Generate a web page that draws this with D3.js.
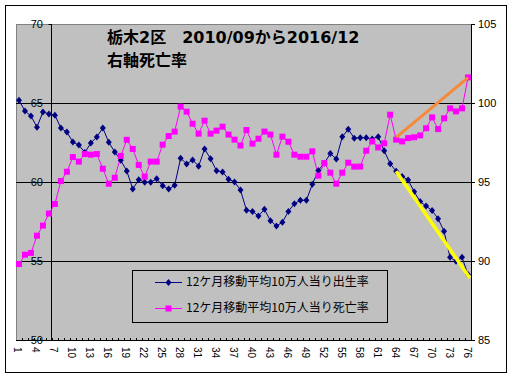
<!DOCTYPE html>
<html><head><meta charset="utf-8">
<script src="https://cdn.jsdelivr.net/npm/d3@7"></script>
<style>
html,body{margin:0;padding:0;background:#fff;}
svg{display:block;}
</style></head>
<body>
<svg id="c" width="513" height="379"></svg>
<script>
const titleLines = ["栃木2区　2010/09から2016/12", "右軸死亡率"];
const seriesNames = ["12ケ月移動平均10万人当り出生率", "12ケ月移動平均10万人当り死亡率"];
const categories = [1,2,3,4,5,6,7,8,9,10,11,12,13,14,15,16,17,18,19,20,21,22,23,24,25,26,27,28,29,30,31,32,33,34,35,36,37,38,39,40,41,42,43,44,45,46,47,48,49,50,51,52,53,54,55,56,57,58,59,60,61,62,63,64,65,66,67,68,69,70,71,72,73,74,75,76];
const tickLabels = [1,4,7,10,13,16,19,22,25,28,31,34,37,40,43,46,49,52,55,58,61,64,67,70,73,76];
const leftTicks = [50,55,60,65,70];
const rightTicks = [85,90,95,100,105];
// birth rate (left axis)
const birth = [65.17,64.49,64.18,63.47,64.43,64.31,64.23,63.41,63.16,62.53,
  62.34,61.87,62.47,62.85,63.42,62.51,61.90,61.37,60.70,59.56,
  60.14,59.99,59.99,60.20,59.76,59.55,59.79,61.51,61.14,61.40,
  61.00,62.09,61.47,60.71,60.64,60.18,60.00,59.49,58.21,58.14,
  57.85,58.27,57.55,57.22,57.45,58.14,58.63,58.84,58.84,59.86,
  60.73,61.18,61.80,61.46,62.86,63.34,62.77,62.80,62.80,62.72,
  62.87,61.98,61.16,60.68,60.35,60.13,59.39,58.76,58.48,58.19,
  57.68,56.88,55.23,54.98,55.23,54.14];
// death rate (right axis)
const death = [89.81,90.40,90.51,91.60,92.24,93.00,93.61,95.06,95.65,96.58,
  96.29,96.77,96.73,96.77,95.84,94.89,95.27,96.65,97.67,97.09,
  96.08,95.34,96.29,96.29,97.36,97.91,98.19,99.77,99.45,98.69,
  98.06,98.88,98.06,98.25,98.50,98.00,97.68,97.31,98.29,97.43,
  97.74,98.19,98.00,96.73,97.87,97.55,96.73,96.60,96.60,96.94,
  95.40,96.20,95.59,94.89,95.59,96.22,95.97,95.98,96.98,97.57,
  97.19,97.45,99.26,97.68,97.57,97.78,97.83,97.95,98.40,99.09,
  98.35,99.03,99.66,99.47,99.66,101.62];
// hand-drawn trend lines (category, value)
const trendDeathCat = [64, 76];
const trendDeathVal = [97.83, 101.6];
const trendBirthCat = [64, 76.3];
const trendBirthVal = [60.68, 53.92];

const svg = d3.select("#c");
const P = {l:16, r:471, t:24, b:340};
const x = d3.scaleLinear().domain([0.5, 76.5]).range([P.l, P.r]);
const yL = d3.scaleLinear().domain([50, 70]).range([P.b, P.t]);
const yR = d3.scaleLinear().domain([85, 105]).range([P.b, P.t]);

// outer border
svg.append("rect").attr("x",5.5).attr("y",5.5).attr("width",501).attr("height",367)
  .attr("fill","#fff").attr("stroke","#000").attr("stroke-width",1);

// plot area
svg.append("rect").attr("x",P.l+0.5).attr("y",P.t+0.5).attr("width",P.r-P.l).attr("height",P.b-P.t)
  .attr("fill","#C0C0C0").attr("stroke","#808080").attr("stroke-width",1);

// gridlines
svg.append("g").selectAll("line").data([55,60,65]).join("line")
  .attr("x1",P.l).attr("x2",P.r).attr("y1",d=>Math.round(yL(d))+0.5).attr("y2",d=>Math.round(yL(d))+0.5)
  .attr("stroke","#000").attr("stroke-width",1);

// left value axis crossing between categories 6 and 7
const axX = Math.round(x(6.5))-0.5;
svg.append("line").attr("x1",axX).attr("x2",axX).attr("y1",P.t).attr("y2",P.b)
  .attr("stroke","#000");
svg.append("g").selectAll("line").data(leftTicks).join("line")
  .attr("x1",axX-3).attr("x2",axX).attr("y1",d=>Math.round(yL(d))+0.5).attr("y2",d=>Math.round(yL(d))+0.5)
  .attr("stroke","#000");
svg.append("g").selectAll("text").data(leftTicks).join("text")
  .attr("x",43).attr("y",d=>yL(d)).attr("dy","0.35em").attr("text-anchor","end")
  .attr("font-family","Liberation Sans, Arial, sans-serif").attr("font-size",11).attr("fill","#000")
  .text(d=>d);

// right axis
svg.append("line").attr("x1",P.r+0.5).attr("x2",P.r+0.5).attr("y1",P.t).attr("y2",P.b+0.5).attr("stroke","#000");
svg.append("g").selectAll("line").data(rightTicks).join("line")
  .attr("x1",P.r).attr("x2",P.r+4).attr("y1",d=>Math.round(yR(d))+0.5).attr("y2",d=>Math.round(yR(d))+0.5)
  .attr("stroke","#000");
svg.append("g").selectAll("text").data(rightTicks).join("text")
  .attr("x",478).attr("y",d=>yR(d)).attr("dy","0.35em")
  .attr("font-family","Liberation Sans, Arial, sans-serif").attr("font-size",11).attr("fill","#000")
  .text(d=>d);

// x axis
svg.append("line").attr("x1",P.l).attr("x2",P.r+1).attr("y1",P.b+0.5).attr("y2",P.b+0.5).attr("stroke","#000");
const bounds = categories.map(c=>c+0.5);
svg.append("g").selectAll("line").data(bounds).join("line")
  .attr("x1",d=>Math.round(x(d))+0.5).attr("x2",d=>Math.round(x(d))+0.5)
  .attr("y1",P.b-2).attr("y2",P.b).attr("stroke","#000");
svg.append("g").selectAll("text").data(tickLabels).join("text")
  .attr("transform",d=>`translate(${x(d)-1},347) rotate(90)`)
  .attr("dy","0.35em")
  .attr("font-family","Liberation Sans, Arial, sans-serif").attr("font-size",10).attr("fill","#000")
  .text(d=>d);

// series lines
const lineL = d3.line().x((d,i)=>x(categories[i])).y(d=>yL(d));
const lineR = d3.line().x((d,i)=>x(categories[i])).y(d=>yR(d));
svg.append("path").datum(birth).attr("d",lineL).attr("fill","none").attr("stroke","#000080").attr("stroke-width",1);
svg.append("path").datum(death).attr("d",lineR).attr("fill","none").attr("stroke","#FF00FF").attr("stroke-width",1);

const diamond = "M0,-3.5L3,0L0,3.5L-3,0Z";
svg.append("g").selectAll("path").data(birth).join("path")
  .attr("d",diamond).attr("transform",(d,i)=>`translate(${x(categories[i])},${yL(d)})`)
  .attr("fill","#000080");
svg.append("g").selectAll("rect").data(death).join("rect")
  .attr("x",(d,i)=>x(categories[i])-3).attr("y",d=>yR(d)-3).attr("width",6).attr("height",6)
  .attr("fill","#FF00FF");

// trend lines
svg.append("line").attr("x1",x(trendDeathCat[0])).attr("y1",yR(trendDeathVal[0]))
  .attr("x2",x(trendDeathCat[1])).attr("y2",yR(trendDeathVal[1]))
  .attr("stroke","#F7893A").attr("stroke-width",3);
svg.append("line").attr("x1",x(trendBirthCat[0])).attr("y1",yL(trendBirthVal[0]))
  .attr("x2",x(trendBirthCat[1])).attr("y2",yL(trendBirthVal[1]))
  .attr("stroke","#FFFF00").attr("stroke-width",3.5);

// title
const tf = "'DejaVu Sans','Noto Sans CJK JP', sans-serif";
svg.append("text").attr("x",107).attr("y",43).attr("font-family",tf).attr("font-weight","bold")
  .attr("font-size",16).attr("fill","#000").text(titleLines[0]);
svg.append("text").attr("x",107).attr("y",66).attr("font-family",tf).attr("font-weight","bold")
  .attr("font-size",16).attr("fill","#000").text(titleLines[1]);

// legend
const lf = "'Noto Sans CJK JP', sans-serif";
const lg = svg.append("g");
lg.append("rect").attr("x",132.5).attr("y",270.5).attr("width",255).attr("height",52)
  .attr("fill","#C0C0C0").attr("stroke","#000");
const rows = [282, 308];
lg.append("line").attr("x1",155).attr("x2",182).attr("y1",rows[0]+0.5).attr("y2",rows[0]+0.5).attr("stroke","#000080");
lg.append("path").attr("d",diamond).attr("transform",`translate(168.5,${rows[0]+0.5})`).attr("fill","#000080");
lg.append("line").attr("x1",155).attr("x2",182).attr("y1",rows[1]+0.5).attr("y2",rows[1]+0.5).attr("stroke","#FF00FF");
lg.append("rect").attr("x",165.5).attr("y",rows[1]-2.5).attr("width",6).attr("height",6).attr("fill","#FF00FF");
lg.selectAll("text.t").data(seriesNames).join("text")
  .attr("x",186).attr("y",(d,i)=>rows[i]).attr("dy","0.35em")
  .attr("font-family",lf).attr("font-size",12).attr("fill","#000").text(d=>d);
</script>
</body></html>
